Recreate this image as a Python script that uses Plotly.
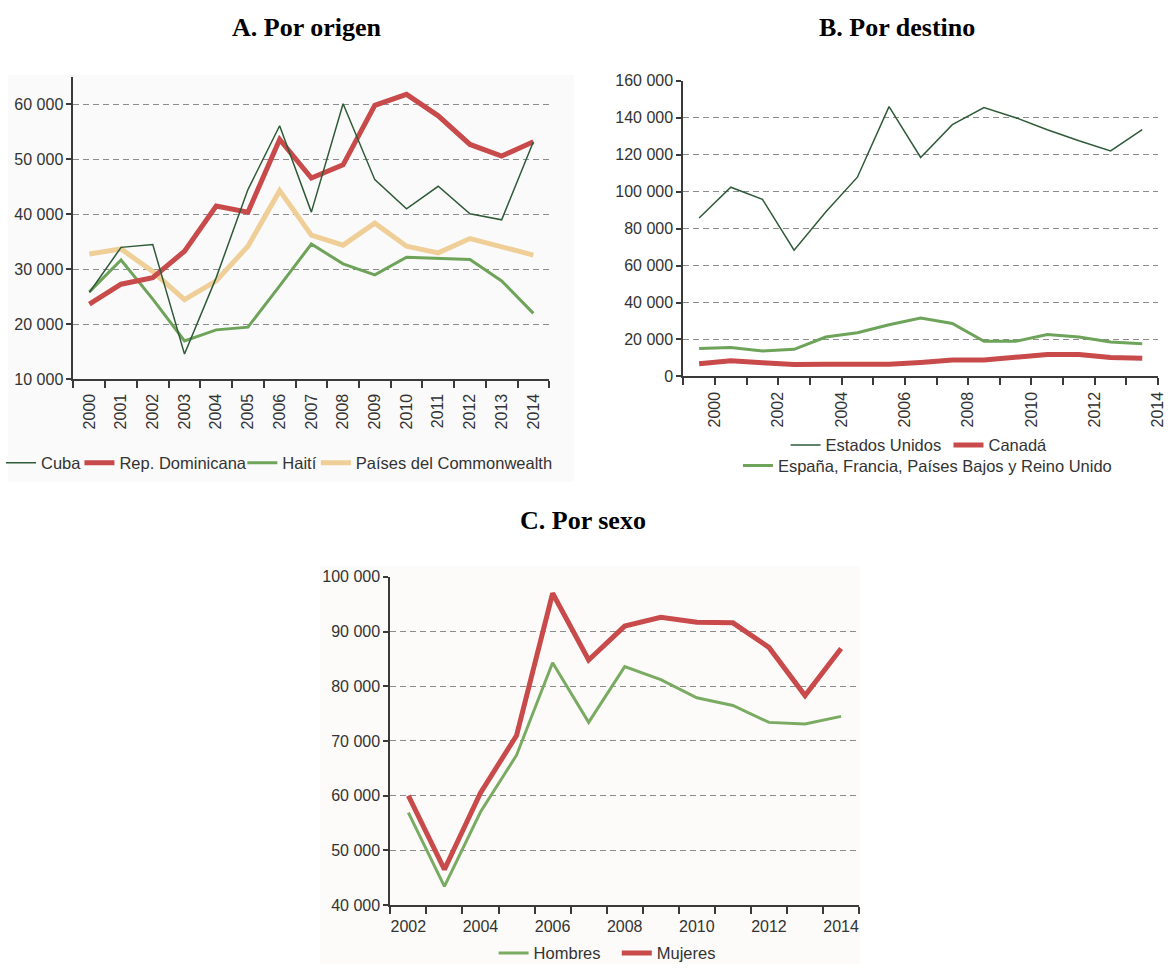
import plotly.graph_objects as go

# ---------------- data ----------------
years_a = list(range(2000, 2015))
cuba = [25800, 34000, 34500, 14600, 28500, 44500, 56100, 40400, 60100, 46300, 41000, 45100, 40100, 39000, 53200]
rep_dom = [23700, 27300, 28500, 33300, 41500, 40400, 53600, 46600, 49000, 59800, 61800, 57900, 52700, 50600, 53200]
haiti = [25900, 31700, 24600, 17000, 19000, 19500, 27000, 34600, 31000, 29000, 32200, 32000, 31800, 27900, 22000]
commonwealth = [32800, 33700, 29600, 24500, 27900, 34200, 44300, 36200, 34400, 38400, 34200, 33000, 35600, 34100, 32600]

years_b = list(range(2000, 2015))
eeuu = [85700, 102400, 95800, 68300, 89000, 107800, 146000, 118500, 136200, 145500, 140000, 133500, 127500, 122000, 133500]
canada = [6900, 8500, 7400, 6400, 6600, 6700, 6600, 7600, 8900, 8900, 10600, 11900, 11900, 10300, 9800]
europa = [15100, 15600, 13800, 14700, 21300, 23600, 28000, 31600, 28700, 19000, 19000, 22700, 21300, 18600, 17700]
labels_b = [2000, 2002, 2004, 2006, 2008, 2010, 2012, 2014]

years_c = list(range(2002, 2015))
hombres = [56900, 43400, 57000, 67400, 84300, 73400, 83600, 81200, 77900, 76500, 73400, 73100, 74500]
mujeres = [60000, 46500, 60500, 71000, 97000, 84800, 91000, 92600, 91700, 91600, 87100, 78300, 86900]
labels_c = [2002, 2004, 2006, 2008, 2010, 2012, 2014]

yticks_a = [10000, 20000, 30000, 40000, 50000, 60000]
yticks_b = [0, 20000, 40000, 60000, 80000, 100000, 120000, 140000, 160000]
yticks_c = [40000, 50000, 60000, 70000, 80000, 90000, 100000]

# ---------------- style ----------------
W, H = 1175, 973
C_DARK = "#2f5b38"
C_RED = "#c84a4a"
C_GREEN = "#6ea35a"
C_BEIGE = "#efcf97"
C_GREEN_C = "#7aab62"
FONT = "Liberation Sans, Arial, sans-serif"
SERIF = "Liberation Serif, Times New Roman, serif"
TXT = "#333333"
AX = "#3a3a3a"
LEG_TEXT_OFFSET = 40   # distance from legend box left edge to its text


def px(x):
    return min(max(x / W, 0), 1)


def py(y):
    return min(max(1 - y / H, 0), 1)


fig = go.Figure()

# Panel A  (one legend box per entry so each sits where it does in the source)
fig.add_trace(go.Scatter(x=years_a, y=commonwealth, name="Países del Commonwealth", mode="lines",
                         line=dict(color=C_BEIGE, width=5), xaxis="x", yaxis="y", legend="legend4"))
fig.add_trace(go.Scatter(x=years_a, y=haiti, name="Haití", mode="lines",
                         line=dict(color=C_GREEN, width=3), xaxis="x", yaxis="y", legend="legend3"))
fig.add_trace(go.Scatter(x=years_a, y=rep_dom, name="Rep. Dominicana", mode="lines",
                         line=dict(color=C_RED, width=5), xaxis="x", yaxis="y", legend="legend2"))
fig.add_trace(go.Scatter(x=years_a, y=cuba, name="Cuba", mode="lines", showlegend=True,
                         line=dict(color=C_DARK, width=1.5), xaxis="x", yaxis="y", legend="legend"))

# Panel B
fig.add_trace(go.Scatter(x=years_b, y=europa, name="España, Francia, Países Bajos y Reino Unido",
                         mode="lines", line=dict(color=C_GREEN, width=3), xaxis="x2", yaxis="y2",
                         legend="legend7"))
fig.add_trace(go.Scatter(x=years_b, y=canada, name="Canadá", mode="lines",
                         line=dict(color=C_RED, width=5), xaxis="x2", yaxis="y2", legend="legend6"))
fig.add_trace(go.Scatter(x=years_b, y=eeuu, name="Estados Unidos", mode="lines",
                         line=dict(color=C_DARK, width=1.5), xaxis="x2", yaxis="y2", legend="legend5"))

# Panel C
fig.add_trace(go.Scatter(x=years_c, y=hombres, name="Hombres", mode="lines",
                         line=dict(color=C_GREEN_C, width=3), xaxis="x3", yaxis="y3", legend="legend8"))
fig.add_trace(go.Scatter(x=years_c, y=mujeres, name="Mujeres", mode="lines",
                         line=dict(color=C_RED, width=5), xaxis="x3", yaxis="y3", legend="legend9"))

common = dict(showline=True, linecolor=AX, linewidth=2, zeroline=False,
              tickfont=dict(family=FONT, size=16, color=TXT), tickwidth=1.5,
              ticklabeloverflow="allow")
ycommon = dict(common, showgrid=True, gridcolor="#8c8c8c", gridwidth=1, griddash="6px,4px",
               ticks="outside", ticklen=5, tickcolor=AX, tickformat=",d", tickmode="array")

minor_common = dict(ticks="outside", ticklen=7, tickwidth=1.5, tickcolor=AX, showgrid=False)

legend_common = dict(orientation="h", xanchor="left", yanchor="middle", bgcolor="rgba(0,0,0,0)",
                     font=dict(family=FONT, size=16.5, color=TXT), itemwidth=30, visible=True)


def leg(text_left, y_center):
    return dict(legend_common, x=px(text_left - LEG_TEXT_OFFSET), y=py(y_center))


title_font = dict(family=SERIF, size=26, color="black")

fig.update_layout(
    width=W, height=H, margin=dict(l=0, r=0, t=0, b=0),
    paper_bgcolor="white", plot_bgcolor="rgba(0,0,0,0)",
    separators=", ", showlegend=True,
    font=dict(family=FONT, color=TXT),
    xaxis=dict(common, domain=[px(74), px(553)], anchor="y", type="linear",
               range=[years_a[0] - 0.5, years_a[-1] + 0.5], showgrid=False,
               tickmode="array", tickvals=years_a, ticktext=[str(v) for v in years_a],
               tickangle=-90, ticks="outside", ticklen=6, tickcolor="rgba(0,0,0,0)",
               minor=dict(minor_common, tickmode="linear", tick0=years_a[0] - 0.5, dtick=1)),
    yaxis=dict(ycommon, domain=[py(378), py(70)], anchor="x", range=[10000, 65000],
               tickvals=yticks_a),
    xaxis2=dict(common, domain=[px(688), px(1166)], anchor="y2", type="linear",
                range=[years_b[0] - 0.5, years_b[-1] + 0.5], showgrid=False,
                tickmode="array", tickvals=[v + 0.5 for v in labels_b],
                ticktext=[str(v) for v in labels_b],
                tickangle=-90, ticks="outside", ticklen=7, tickcolor=AX,
                minor=dict(minor_common, tickmode="linear", tick0=years_b[0] - 0.5, dtick=1)),
    yaxis2=dict(ycommon, domain=[py(375), py(74)], anchor="x2", range=[0, 160000],
                tickvals=yticks_b),
    xaxis3=dict(common, domain=[px(393), px(865)], anchor="y3", type="linear",
                range=[years_c[0] - 0.5, years_c[-1] + 0.5], showgrid=False,
                tickmode="array", tickvals=labels_c, ticktext=[str(v) for v in labels_c],
                ticks="outside", ticklen=6, tickcolor="rgba(0,0,0,0)",
                minor=dict(minor_common, tickmode="linear", tick0=years_c[0] - 0.5, dtick=1)),
    yaxis3=dict(ycommon, domain=[py(913), py(579)], anchor="x3", range=[40000, 100000],
                tickvals=yticks_c),
    legend=leg(41, 463),
    legend2=leg(120, 463),
    legend3=leg(284, 463),
    legend4=leg(358, 463),
    legend5=leg(831, 445),
    legend6=leg(995, 445),
    legend7=leg(783, 466),
    legend8=leg(537, 962),
    legend9=leg(661, 962),
    shapes=[
        dict(type="rect", xref="paper", yref="paper", x0=px(8), x1=px(578), y0=py(482), y1=py(68),
             fillcolor="#fafafa", line=dict(width=0), layer="below"),
        dict(type="rect", xref="paper", yref="paper", x0=px(322), x1=px(866), y0=py(973), y1=py(568),
             fillcolor="#fcfbf9", line=dict(width=0), layer="below"),
    ],
    annotations=[
        dict(text="<b>A. Por origen</b>", x=px(309), y=py(20), xref="paper", yref="paper",
             showarrow=False, xanchor="center", yanchor="middle", font=title_font),
        dict(text="<b>B. Por destino</b>", x=px(903), y=py(20), xref="paper", yref="paper",
             showarrow=False, xanchor="center", yanchor="middle", font=title_font),
        dict(text="<b>C. Por sexo</b>", x=px(587), y=py(522), xref="paper", yref="paper",
             showarrow=False, xanchor="center", yanchor="middle", font=title_font),
    ],
)

# remove the default page margin so the 1175x973 figure fills the window exactly
fig.write_html("out.html",
               config={"displayModeBar": False},
               post_script="document.body.style.margin='0px';"
                           "document.documentElement.style.overflow='hidden';")
